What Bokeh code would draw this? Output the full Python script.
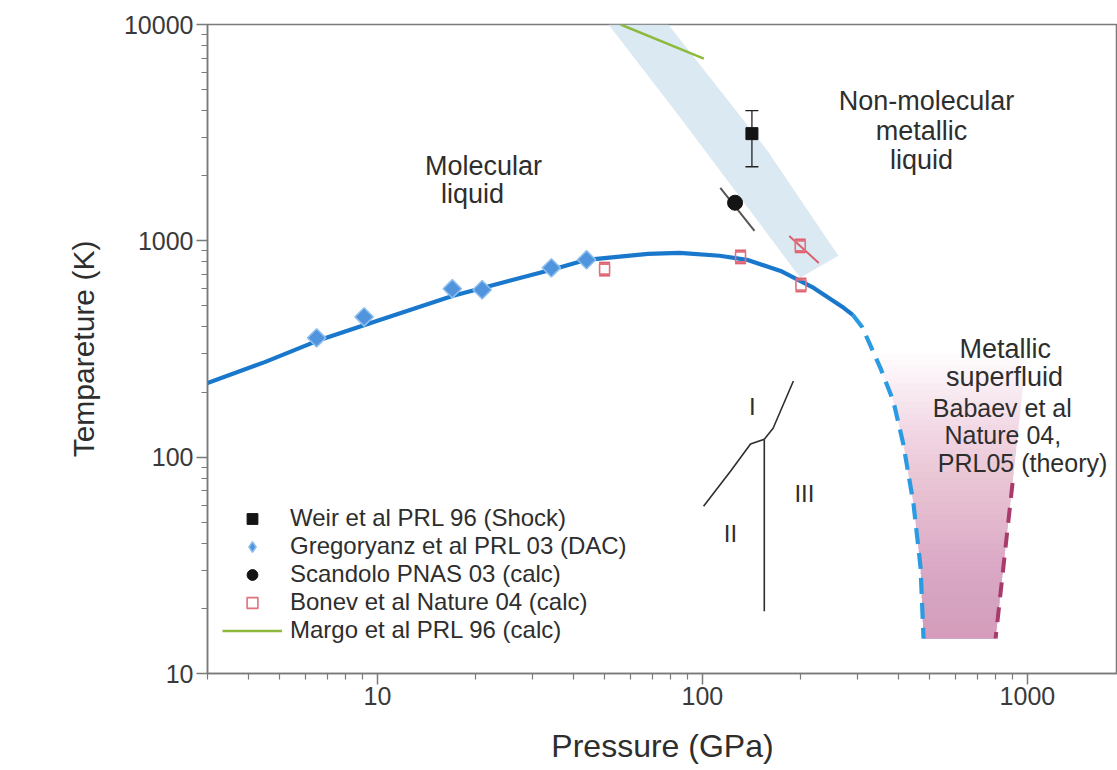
import numpy as np
from bokeh.plotting import figure
from bokeh.models import Range1d, FixedTicker, PrintfTickFormatter, Legend, LegendItem
from bokeh.core.properties import value
from bokeh.embed import file_html
from bokeh.resources import INLINE

FONT = "Liberation Sans"

# ---------------- data ----------------
# melting line (solid part) and its dashed extrapolation
melt_P = [3, 4.5, 6.5, 10, 17, 25, 35, 44, 68, 85, 113, 137, 174, 220, 272, 290]
melt_T = [220, 275, 344, 427, 556, 649, 741, 817, 871, 880, 853, 817, 726, 606, 490, 455]
melt_ext_P = [290, 310, 353, 387, 415, 446, 469, 479]
melt_ext_T = [455, 400, 258, 181, 115, 61, 31, 14.5]

# Weir et al PRL 96 (Shock)
weir_P = [142]
weir_T = [3130]
weir_T_lo = [2200]
weir_T_hi = [4000]

# Gregoryanz et al PRL 03 (DAC)
greg_P = [6.5, 9.1, 17, 21, 34.3, 44]
greg_T = [356, 445, 600, 594, 750, 817]

# Scandolo PNAS 03 (calc)
scan_P = [126]
scan_T = [1500]
scan_line_P = [113.5, 144.6]
scan_line_T = [1758, 1111]

# Bonev et al Nature 04 (calc)
bonev_P = [50, 131, 200, 201]
bonev_T = [740, 843, 948, 625]
bonev_err = 1.07  # multiplicative error bar
bonev_line_P = [185, 228]
bonev_line_T = [1054, 790]

# Margo et al PRL 96 (calc)
margo_P = [56, 101]
margo_T = [10000, 6960]

# liquid-liquid transition band
band_P = [51.4, 85.5, 200, 262, 158.5, 78.5]
band_T = [10000, 3710, 675, 853, 2610, 10000]

# superfluid right boundary
sf_P = [900, 798]
sf_T = [76, 14.5]
sf_T_top = 300

# solid phase lines
ph_a_P = [100.8, 122, 140.6, 155]
ph_a_T = [59.3, 86, 115, 121]
ph_b_P = [155, 165, 190.5]
ph_b_T = [121, 136, 225]
ph_c_P = [155, 155]
ph_c_T = [121, 19.4]

phase_lbl = ["I", "II", "III"]
phase_lbl_P = [142.5, 122, 206]
phase_lbl_T = [172, 44.5, 68]

region_lbl = ["Molecular", "liquid", "Non-molecular", "metallic", "liquid",
              "Metallic", "superfluid"]
region_lbl_P = [21.2, 19.6, 489, 472, 472, 855, 850]
region_lbl_T = [2222, 1652, 4450, 3230, 2371, 316, 234]

ref_lbl = ["Babaev et al", "Nature 04,", "PRL05 (theory)"]
ref_lbl_P = [837, 840, 966]
ref_lbl_T = [169, 126, 93.8]

x_ticks = [10, 100, 1000]
x_minor = [m * d for d in (1, 10, 100, 1000) for m in range(2, 10)]
y_ticks = [10, 100, 1000, 10000]
y_minor = [m * d for d in (10, 100, 1000) for m in range(2, 10)]

# ---------------- figure ----------------
p = figure(width=1117, height=768, x_axis_type="log", y_axis_type="log",
           x_range=Range1d(3, 1893), y_range=Range1d(10, 10000),
           output_backend="svg", toolbar_location=None,
           min_border_left=207, min_border_right=0,
           min_border_top=24, min_border_bottom=95)
p.grid.visible = False
p.background_fill_color = "white"
p.border_fill_color = "white"
p.outline_line_color = "#7a7a7a"
p.outline_line_width = 1.5

for ax in (p.xaxis[0], p.yaxis[0]):
    ax.axis_line_color = "#7a7a7a"
    ax.axis_line_width = 1.5
    ax.major_tick_line_color = "#7a7a7a"
    ax.minor_tick_line_color = "#7a7a7a"
    ax.major_tick_line_width = 1.5
    ax.minor_tick_line_width = 1.2
    ax.major_tick_in = 0
    ax.major_tick_out = 11
    ax.minor_tick_in = 0
    ax.minor_tick_out = 6
    ax.major_label_text_font = FONT
    ax.major_label_text_font_size = "25px"
    ax.major_label_text_color = "#3a3a3a"
    ax.axis_label_text_font = FONT
    ax.axis_label_text_font_style = "normal"
    ax.axis_label_text_color = "#2e2e2e"
    ax.formatter = PrintfTickFormatter(format="%d")

p.xaxis.ticker = FixedTicker(ticks=x_ticks, minor_ticks=x_minor)
p.yaxis.ticker = FixedTicker(ticks=y_ticks, minor_ticks=y_minor)
p.xaxis.axis_label = "Pressure (GPa)"
p.yaxis.axis_label = "Tempareture (K)"
p.xaxis.axis_label_text_font_size = "32px"
p.yaxis.axis_label_text_font_size = "30px"
p.xaxis.major_label_standoff = 2
p.yaxis.major_label_standoff = 3
p.xaxis.axis_label_standoff = 20
p.yaxis.axis_label_standoff = 21

# ---------------- superfluid shading (nested patches -> gradient) ----------------
lT_ext = np.log10(melt_ext_T)[::-1]
lP_ext = np.log10(melt_ext_P)[::-1]
lsfT = np.log10(sf_T)
lsfP = np.log10(sf_P)
slope = (lsfP[0] - lsfP[1]) / (lsfT[0] - lsfT[1])
lT_bot = np.log10(sf_T[1])
lT_top = np.log10(sf_T_top)
n_layers = 48
for lt_k in np.linspace(lT_bot, lT_top, n_layers + 1)[1:]:
    lts = np.linspace(lT_bot, lt_k, 24)
    left = np.interp(lts, lT_ext, lP_ext)
    right_top = lsfP[1] + (lt_k - lsfT[1]) * slope
    xs = list(10 ** left) + [10 ** right_top, sf_P[1]]
    ys = list(10 ** lts) + [10 ** lt_k, sf_T[1]]
    p.patch(xs, ys, fill_color="#cf8fb2", fill_alpha=0.024, line_color=None)

# ---------------- band ----------------
p.patch(band_P, band_T, fill_color="#d5e5f0", fill_alpha=0.85, line_color=None)

# Margo line
r_margo = p.line(margo_P, margo_T, line_color="#8dba3c", line_width=2.5)

# phase lines
for xs, ys in ((ph_a_P, ph_a_T), (ph_b_P, ph_b_T), (ph_c_P, ph_c_T)):
    p.line(xs, ys, line_color="#2e2e2e", line_width=1.6)

# melting line
p.line(melt_P, melt_T, line_color="#1a78cc", line_width=4.2)
p.line(melt_ext_P, melt_ext_T, line_color="#2a9be3", line_width=4.2, line_dash="16 9")

# superfluid right dashed boundary
p.line(sf_P, sf_T, line_color="#a83a6c", line_width=4, line_dash="15 10")

# Scandolo
p.line(scan_line_P, scan_line_T, line_color="#555555", line_width=2)
r_scan = p.scatter(scan_P, scan_T, marker="circle", size=15,
                   fill_color="#141414", line_color="#141414")

# Weir
p.segment(weir_P, weir_T_lo, weir_P, weir_T_hi, line_color="#222222", line_width=1.3)
p.scatter(weir_P + weir_P, weir_T_lo + weir_T_hi, marker="dash", size=13,
          line_color="#222222", line_width=1.3)
r_weir = p.scatter(weir_P, weir_T, marker="square", size=12,
                   fill_color="#141414", line_color="#141414")

# Bonev
p.line(bonev_line_P, bonev_line_T, line_color="#d8606e", line_width=2)
bonev_lo = [t / bonev_err for t in bonev_T]
bonev_hi = [t * bonev_err for t in bonev_T]
p.scatter(bonev_P + bonev_P, bonev_lo + bonev_hi, marker="dash", size=11,
          line_color="#e0606f", line_width=2.2)
r_bonev = p.scatter(bonev_P, bonev_T, marker="square", size=10,
                    fill_color="white", fill_alpha=0.0, line_color="#e0707c",
                    line_width=1.6)

# Gregoryanz: narrow diamond (used for the legend swatch, hidden under the
# rotated squares) and the rotated squares that show in the plot
r_greg_leg = p.scatter(greg_P, greg_T, marker="diamond", size=12,
                       fill_color="#4f94dc", line_color="#8fbfee", line_width=1.5)
p.scatter(greg_P, greg_T, marker="square", angle=np.pi / 4, size=13,
          fill_color="#4f94dc", line_color="#8fbfee", line_width=1.5)

# ---------------- labels ----------------
p.text(phase_lbl_P, phase_lbl_T, text=phase_lbl, text_font=value(FONT),
       text_font_size="24px", text_color="#2e2e2e",
       text_align="center", text_baseline="middle")
p.text(region_lbl_P, region_lbl_T, text=region_lbl, text_font=value(FONT),
       text_font_size="27px", text_color="#2e2e2e",
       text_align="center", text_baseline="alphabetic")
p.text(ref_lbl_P, ref_lbl_T, text=ref_lbl, text_font=value(FONT),
       text_font_size="25px", text_color="#2e2e2e",
       text_align="center", text_baseline="alphabetic")

# ---------------- legend ----------------
legend = Legend(items=[
    LegendItem(label="Weir et al PRL 96 (Shock)", renderers=[r_weir]),
    LegendItem(label="Gregoryanz et al PRL 03 (DAC)", renderers=[r_greg_leg]),
    LegendItem(label="Scandolo PNAS 03 (calc)", renderers=[r_scan]),
    LegendItem(label="Bonev et al Nature 04 (calc)", renderers=[r_bonev]),
    LegendItem(label="Margo et al PRL 96 (calc)", renderers=[r_margo]),
], location=(15, 29), glyph_width=60, glyph_height=27, label_height=20,
    label_standoff=8, padding=0, margin=0, spacing=0,
    background_fill_alpha=0.0, border_line_alpha=0.0,
    label_text_font=FONT, label_text_font_size="24px",
    label_text_color="#2e2e2e")
p.add_layout(legend)

open("out.html", "w").write(file_html(p, INLINE))
